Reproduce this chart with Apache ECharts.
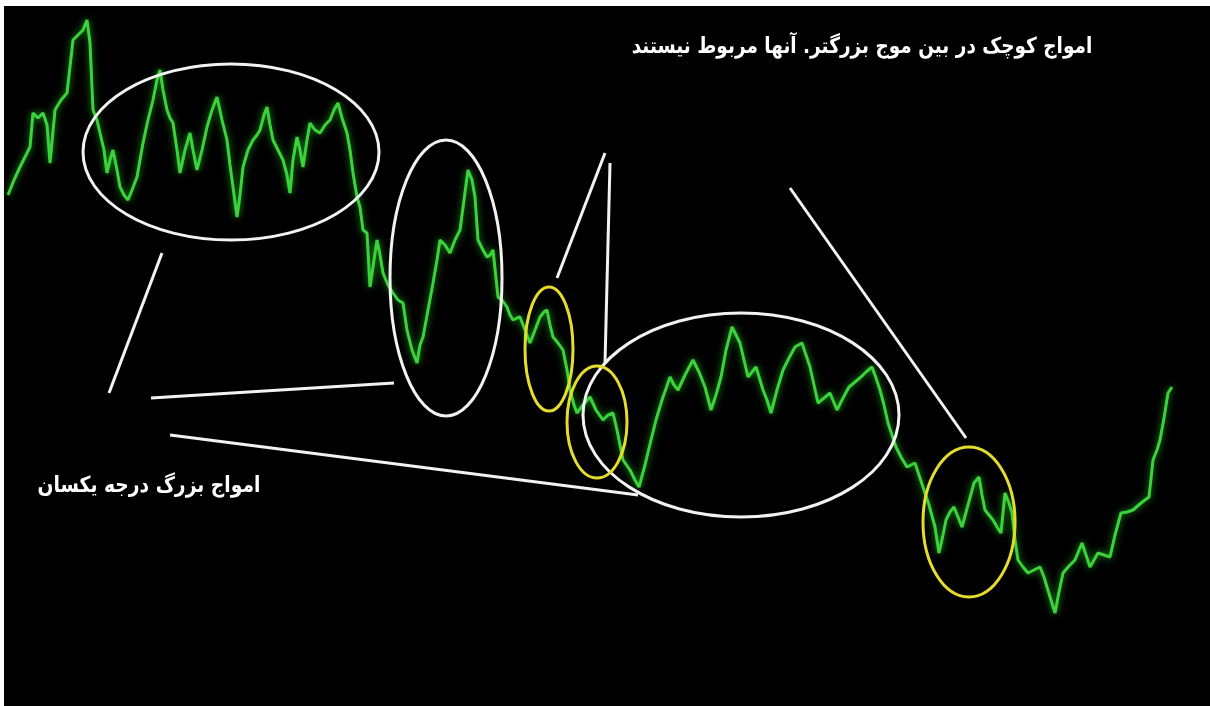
<!DOCTYPE html>
<html>
<head>
<meta charset="utf-8">
<script src="https://cdn.jsdelivr.net/npm/echarts@6/dist/echarts.min.js"></script>
<style>
html,body{margin:0;padding:0;background:#fff;}
#chart{width:1210px;height:706px;}
</style>
</head>
<body>
<div id="chart"></div>
<script>
// Price path: horizontal position (bar index scale) and level (inverted scale, larger = lower price)
const priceX = [8,14,20,26,30,33,38,43,47,50,55,61,67,73,78,83,87,90,93,97,100,104,107,110,113,117,120,124,128,132,137,140,143,148,153,157,160,163,167,170,173,177,180,185,190,193,197,202,207,212,217,222,227,230,233,237,240,243,248,253,257,260,264,267,270,273,278,283,287,290,293,297,300,303,307,310,315,320,325,330,334,338,342,347,350,353,357,360,363,367,370,374,377,380,383,388,393,398,403,407,412,417,420,423,428,433,437,440,445,450,455,460,464,468,472,475,478,483,487,490,493,498,502,507,510,513,517,520,525,530,535,540,544,547,550,553,558,563,567,570,574,577,583,590,596,603,608,613,617,623,630,635,639,645,651,656,662,670,674,678,685,693,699,705,711,716,721,726,732,736,740,744,748,756,760,763,767,771,777,783,789,795,802,806,810,814,818,824,830,837,843,849,855,861,866,872,876,880,884,888,892,896,901,907,915,919,923,929,935,939,943,946,950,954,958,962,968,974,979,982,985,989,993,997,1001,1005,1009,1012,1015,1018,1023,1028,1034,1040,1044,1047,1051,1055,1059,1063,1069,1075,1082,1086,1090,1094,1098,1104,1110,1115,1121,1127,1133,1141,1149,1153,1157,1160,1164,1168,1172];
const priceLevel = [195,180,167,155,147,113,118,113,125,163,110,100,93,40,35,30,20,43,110,120,133,150,173,160,150,170,187,195,200,190,177,160,143,120,100,80,70,90,110,118,123,150,173,150,133,150,170,150,127,110,97,120,140,165,187,217,195,167,150,140,135,130,115,107,125,140,150,160,175,193,160,137,150,167,140,123,130,133,125,120,110,103,118,133,150,173,197,207,230,233,287,260,240,255,273,285,293,300,303,330,350,363,345,337,310,283,260,240,245,253,240,230,200,170,180,197,240,250,257,255,250,297,300,307,315,320,318,317,330,343,330,317,312,310,325,337,343,350,370,390,405,413,405,397,410,420,415,413,430,460,470,480,487,465,440,420,400,377,385,390,375,360,372,387,410,395,377,350,327,335,343,360,377,367,380,390,400,413,390,370,358,347,343,355,367,385,403,398,393,410,398,387,382,377,372,367,378,390,405,423,435,447,457,467,463,475,487,505,527,553,535,520,512,507,517,527,505,483,477,495,510,515,520,527,533,493,503,513,540,560,567,573,570,567,577,587,600,613,592,573,566,560,543,555,567,560,553,555,557,535,513,512,510,503,497,460,450,440,418,393,387];

// Annotation ellipses (centre x, centre level, radius x, radius level) in chart units
const ellipseCx = [231,446,741,549,597,969];
const ellipseCy = [152,278,415,349,422,522];
const ellipseRx = [148,56,158,24,30,46];
const ellipseRy = [88,138,102,62,56,75];
const ellipseKind = ['big','big','big','small','small','small'];

// Annotation connector lines (x1, level1, x2, level2)
const lineX1 = [162,151,170,557,610,790];
const lineY1 = [253,398,435,278,163,188];
const lineX2 = [109,394,638,605,605,966];
const lineY2 = [393,383,495,153,363,438];

// Texts
const titleTop = 'امواج کوچک در بین موج بزرگتر. آنها مربوط نیستند';
const titleBottom = 'امواج بزرگ درجه یکسان';

const chart = echarts.init(document.getElementById('chart'), null, {renderer:'canvas'});

const lineData = priceX.map((x,i)=>[x, priceLevel[i]]);
const ellData = ellipseCx.map((x,i)=>[x, ellipseCy[i], ellipseRx[i], ellipseRy[i], ellipseKind[i]==='big'?0:1]);
const segData = lineX1.map((x,i)=>[x, lineY1[i], lineX2[i], lineY2[i]]);

chart.setOption({
  backgroundColor:'#ffffff',
  animation:false,
  grid:{left:4, top:6, right:0, bottom:0, show:true, backgroundColor:'#000000', borderWidth:0},
  xAxis:{type:'value', min:4, max:1210, show:false},
  yAxis:{type:'value', min:6, max:706, inverse:true, show:false},
  series:[
    {
      type:'line', data:lineData, symbol:'none', z:2,
      lineStyle:{color:'#3cd23c', width:3, shadowColor:'#22a022', shadowBlur:7}
    },
    {
      type:'custom', data:ellData, z:3, silent:true,
      renderItem:function(params, api){
        const c = api.coord([api.value(0), api.value(1)]);
        const s = api.size([api.value(2), api.value(3)]);
        const small = api.value(4) === 1;
        return {type:'ellipse', shape:{cx:c[0], cy:c[1], rx:Math.abs(s[0]), ry:Math.abs(s[1])},
          style:{fill:null, stroke: small ? '#e6dc2c' : '#f2f2f2', lineWidth:3}};
      }
    },
    {
      type:'custom', data:segData, z:3, silent:true,
      renderItem:function(params, api){
        const a = api.coord([api.value(0), api.value(1)]);
        const b = api.coord([api.value(2), api.value(3)]);
        return {type:'line', shape:{x1:a[0], y1:a[1], x2:b[0], y2:b[1]},
          style:{stroke:'#f2f2f2', lineWidth:3}};
      }
    }
  ],
  graphic:[
    {type:'text', x:862, y:47, scaleX:0.84, z:10, style:{text:titleTop, fill:'#ffffff', font:'bold 22px "DejaVu Sans"', align:'center', verticalAlign:'middle'}},
    {type:'text', x:149, y:486, scaleX:0.85, z:10, style:{text:titleBottom, fill:'#ffffff', font:'bold 22px "DejaVu Sans"', align:'center', verticalAlign:'middle'}}
  ]
});
</script>
</body>
</html>
